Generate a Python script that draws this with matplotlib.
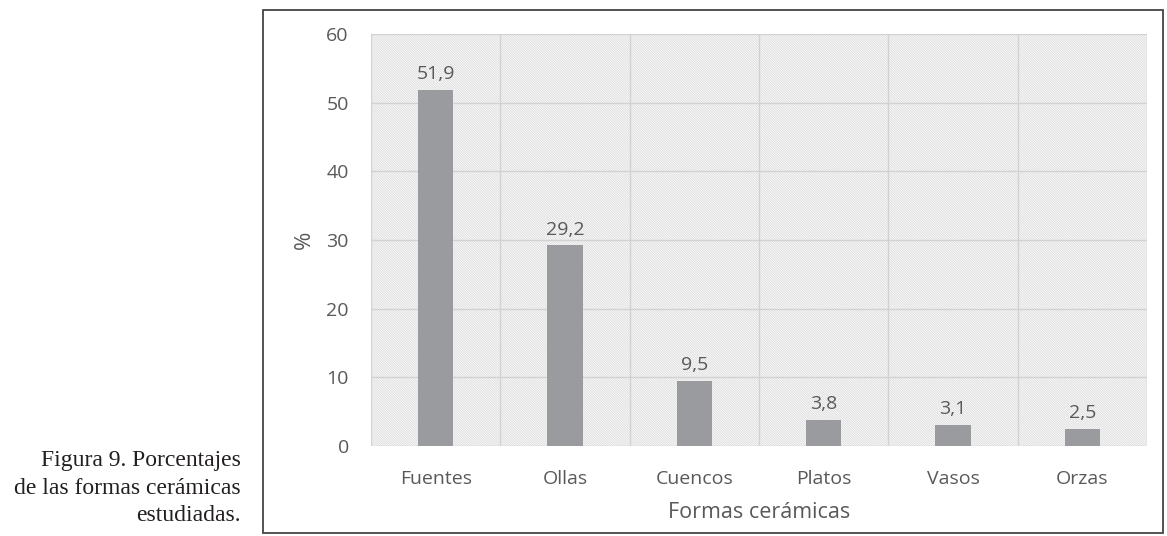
import matplotlib
matplotlib.use("Agg")
import matplotlib.pyplot as plt
from matplotlib.patches import Rectangle

categories = ["Fuentes", "Ollas", "Cuencos", "Platos", "Vasos", "Orzas"]
values = [51.9, 29.2, 9.5, 3.8, 3.1, 2.5]
value_labels = ["51,9", "29,2", "9,5", "3,8", "3,1", "2,5"]
yticks = [0, 10, 20, 30, 40, 50, 60]

plt.rcParams['hatch.linewidth'] = 0.6
txt = '#595959'
fnt = ['Open Sans', 'DejaVu Sans']

fig = plt.figure(figsize=(11.67, 5.36), dpi=100)
fig.patch.set_facecolor('white')

# outer frame
fig.add_artist(Rectangle((263/1167, 1-533/536), 900/1167, 523/536, transform=fig.transFigure,
                         fill=False, edgecolor='#444444', lw=1.3))

ax = fig.add_axes([371/1167, 1-446/536, 776/1167, 412/536])
ax.set_facecolor('white')
ax.add_patch(Rectangle((0, 0), 1, 1, transform=ax.transAxes, facecolor='#fbfbfb',
                       edgecolor='#dcdcdc', hatch='\\' * 14, lw=0, zorder=0))

x = list(range(len(categories)))
ax.bar(x, values, width=0.275, color='#9a9b9e', zorder=3)
for xi, v, lab in zip(x, values, value_labels):
    ax.annotate(lab, (xi, v), xytext=(0, 5), textcoords='offset points', ha='center', va='bottom',
                fontsize=14, color=txt, family=fnt, zorder=4)

ax.set_xlim(-0.5, 5.5)
ax.set_ylim(0, 60)
ax.set_yticks(yticks)
ax.set_xticks(x)
ax.set_xticklabels(categories)
for yv in yticks:
    ax.axhline(yv, color='#d2d2d2', lw=1.0, zorder=1)
for b in [-0.5, 0.5, 1.5, 2.5, 3.5, 4.5, 5.5]:
    ax.axvline(b, color='#d2d2d2', lw=1.0, zorder=1)
for s in ax.spines.values():
    s.set_visible(False)
ax.tick_params(length=0, colors=txt, labelsize=14)
ax.tick_params(axis='y', pad=16)
ax.tick_params(axis='x', pad=17)
for t in ax.get_xticklabels() + ax.get_yticklabels():
    t.set_family(fnt)

ax.set_ylabel('%', fontsize=16, color=txt, family=fnt, labelpad=8)
ax.set_xlabel('Formas cerámicas', fontsize=15.5, color=txt, family=fnt, labelpad=10)

cap = "Figura 9. Porcentajes\nde las formas cerámicas\nestudiadas."
fig.text(241/1167, 1-488/536, cap, ha='right', va='center', fontsize=17,
         family=['Liberation Serif', 'DejaVu Serif'], color='#231f20', linespacing=1.38)

fig.savefig('out.png', dpi=100)
